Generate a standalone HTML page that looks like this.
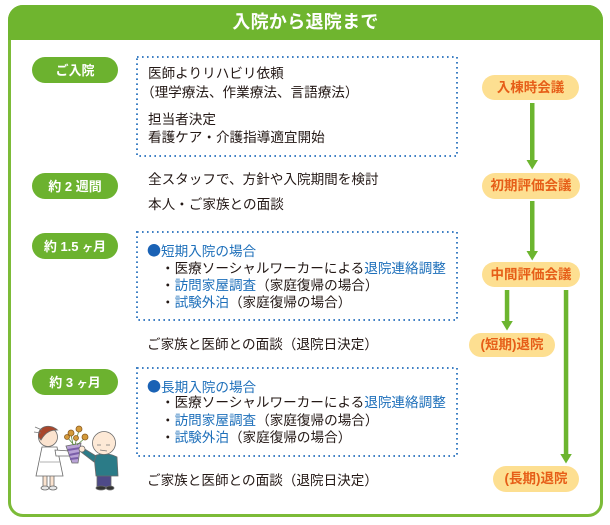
<!DOCTYPE html>
<html lang="ja">
<head>
<meta charset="utf-8">
<style>
  html,body{margin:0;padding:0;background:#fff;}
  body{width:610px;height:525px;position:relative;overflow:hidden;
       font-family:"Liberation Sans","Noto Sans CJK JP",sans-serif;color:#231815;}
  .frame{position:absolute;left:8px;top:5px;width:595px;height:512px;box-sizing:border-box;
         border:3px solid #7cbb38;border-radius:15px;}
  .hdr{position:absolute;left:8px;top:5px;width:595px;height:35px;background:#6fb52f;
       border-radius:15px 15px 0 0;color:#fff;font-weight:bold;font-size:18px;
       line-height:35px;text-align:center;letter-spacing:0.3px;}
  .gp{position:absolute;left:32px;width:86px;height:26px;border-radius:13px;background:#6cb22f;
      color:#fff;font-weight:bold;font-size:13px;line-height:27px;text-align:center;white-space:nowrap;}
  .op{position:absolute;height:26px;border-radius:13px;background:#fddf91;color:#e65e18;
      font-weight:bold;font-size:13.5px;line-height:26px;text-align:center;white-space:nowrap;}
  .t{position:absolute;font-size:13.6px;line-height:18px;white-space:nowrap;}
  .b{color:#1d6fba;}
  .dot{color:#1a62b5;font-family:"Noto Sans CJK JP",sans-serif;font-size:14px;}
</style>
</head>
<body>
<div class="frame"></div>
<div class="hdr">入院から退院まで</div>

<svg width="610" height="525" style="position:absolute;left:0;top:0" xmlns="http://www.w3.org/2000/svg">
  <g fill="none" stroke="#3f80c4" stroke-width="2" stroke-dasharray="1.6 3.4">
    <rect x="137" y="57" width="320" height="99"/>
    <rect x="137" y="232" width="320" height="88"/>
    <rect x="137" y="368" width="320" height="88"/>
  </g>
  <g fill="#6cb52f">
    <rect x="530" y="103" width="4.5" height="58"/>
    <polygon points="526.5,160 538,160 532.2,169.5"/>
    <rect x="530" y="201" width="4.5" height="51"/>
    <polygon points="526.5,251 538,251 532.2,260.5"/>
    <rect x="504.8" y="290" width="4.5" height="32"/>
    <polygon points="501.3,321 512.8,321 507,330.5"/>
    <rect x="563.8" y="290" width="4.5" height="165"/>
    <polygon points="560.3,454 571.8,454 566,463.5"/>
  </g>
  <g stroke="#6a6a6a" stroke-width="0.8">
    <rect x="43" y="473" width="4" height="14" fill="#fbe3cf"/>
    <rect x="50" y="473" width="4" height="14" fill="#fbe3cf"/>
    <ellipse cx="45" cy="488" rx="4" ry="2" fill="#e8e8e8"/>
    <ellipse cx="53" cy="488" rx="4" ry="2" fill="#e8e8e8"/>
    <polygon points="42,447 57,447 63,476 36,476" fill="#ffffff"/>
    <line x1="40" y1="462" x2="60" y2="462" stroke="#999"/>
    <polygon points="55,450 70,451 70,456 56,456" fill="#ffffff"/>
    <circle cx="48" cy="437" r="9.5" fill="#fbe3cf"/>
    <path d="M38.5,437 C37,426 50,423 57.5,430 C52,430 46,431 41,440 Z" fill="#a9462b"/>
    <path d="M35,427 L42,430 M34,432 L41,433" stroke="#777" fill="none"/>
    <polygon points="66,446 81,443 78,463 72,463" fill="#b9a3d6"/>
    <path d="M68,450 L80,448 M69,455 L79,453 M70,459 L78,458" stroke="#7a5ea8" stroke-width="2" fill="none"/>
    <path d="M73,445 L71,434 M75,445 L79,430 M77,445 L85,438 M74,445 L67,437" stroke="#5a8a3a" fill="none"/>
    <g fill="#d49a3a" stroke="#8a5a20">
      <circle cx="71" cy="433" r="3"/>
      <circle cx="79" cy="429" r="3"/>
      <circle cx="85" cy="437" r="3"/>
      <circle cx="67" cy="437" r="2.5"/>
      <circle cx="76" cy="438" r="2.5"/>
    </g>
    <rect x="97" y="474" width="14" height="13" fill="#4e4a88"/>
    <ellipse cx="101" cy="488" rx="5" ry="2" fill="#333"/>
    <ellipse cx="110" cy="488" rx="4" ry="2" fill="#333"/>
    <path d="M94,456 Q106,451 117,457 L118,476 L96,476 Z" fill="#2b7b87"/>
    <polygon points="96,456 83,448 81,452 94,462" fill="#2b7b87"/>
    <circle cx="82" cy="449" r="3" fill="#fde9d6"/>
    <circle cx="104" cy="443" r="11.5" fill="#fde9d6"/>
    <path d="M97,445 L101,445 M106,445 L110,445 M100,450 L107,451" stroke="#777" fill="none"/>
  </g>
</svg>

<div class="gp" style="top:57px;">ご入院</div>
<div class="gp" style="top:173px;">約 2 週間</div>
<div class="gp" style="top:233px;">約 1.5 <span style="font-size:11px">ヶ</span>月</div>
<div class="gp" style="top:369px;">約 3 <span style="font-size:11px">ヶ</span>月</div>

<div class="op" style="left:482px;top:75px;width:97px;height:25px;line-height:25px;">入棟時会議</div>
<div class="op" style="left:482px;top:173px;width:98px;">初期評価会議</div>
<div class="op" style="left:482px;top:262px;width:98px;height:25px;line-height:25px;">中間評価会議</div>
<div class="op" style="left:469px;top:333px;width:86px;height:24px;line-height:24px;">(短期)退院</div>
<div class="op" style="left:493px;top:466px;width:86px;">(長期)退院</div>

<div class="t" style="left:148px;top:65px;">医師よりリハビリ依頼</div>
<div class="t" style="left:141px;top:84px;">（理学療法、作業療法、言語療法）</div>
<div class="t" style="left:148px;top:111px;">担当者決定</div>
<div class="t" style="left:148px;top:129px;">看護ケア・介護指導適宜開始</div>

<div class="t" style="left:148px;top:171px;">全スタッフで、方針や入院期間を検討</div>
<div class="t" style="left:148px;top:196px;">本人・ご家族との面談</div>

<div class="t" style="left:147px;top:242px;"><span class="dot">●</span><span class="b">短期入院の場合</span></div>
<div class="t" style="left:161px;top:260px;">・医療ソーシャルワーカーによる<span class="b">退院連絡調整</span></div>
<div class="t" style="left:161px;top:277px;">・<span class="b">訪問家屋調査</span>（家庭復帰の場合）</div>
<div class="t" style="left:161px;top:294px;">・<span class="b">試験外泊</span>（家庭復帰の場合）</div>

<div class="t" style="left:147px;top:336px;">ご家族と医師との面談（退院日決定）</div>

<div class="t" style="left:147px;top:378px;"><span class="dot">●</span><span class="b">長期入院の場合</span></div>
<div class="t" style="left:161px;top:394px;">・医療ソーシャルワーカーによる<span class="b">退院連絡調整</span></div>
<div class="t" style="left:161px;top:412px;">・<span class="b">訪問家屋調査</span>（家庭復帰の場合）</div>
<div class="t" style="left:161px;top:429px;">・<span class="b">試験外泊</span>（家庭復帰の場合）</div>

<div class="t" style="left:147px;top:472px;">ご家族と医師との面談（退院日決定）</div>
</body>
</html>
